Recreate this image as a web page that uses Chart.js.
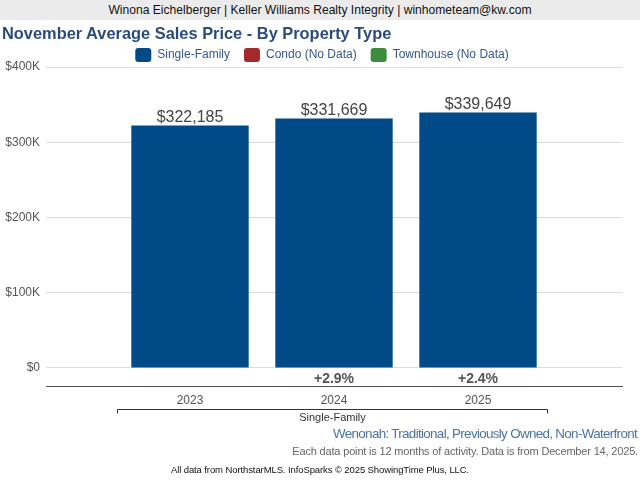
<!DOCTYPE html>
<html>
<head>
<meta charset="utf-8">
<script src="https://cdn.jsdelivr.net/npm/chart.js@4"></script>
<style>
  html, body { margin: 0; padding: 0; background: #fff; }
  body { width: 640px; height: 480px; position: relative; overflow: hidden; font-family: "Liberation Sans", Arial, sans-serif; }
  #header { position: absolute; left: 0; top: 0; width: 640px; height: 20px; background: #ebebeb; color: #111; font-size: 12.1px; line-height: 20px; text-align: center; }
  #title { position: absolute; left: 2px; top: 23px; font-size: 16.4px; line-height: 20px; font-weight: bold; color: #2b4c7a; white-space: nowrap; }
  #wrap { position: absolute; left: 0; top: 0; width: 640px; height: 480px; }
  .foot { position: absolute; white-space: nowrap; }
  #area { right: 3px; top: 426px; font-size: 13.4px; letter-spacing: -0.67px; color: #4a74a4; }
  #note { right: 2px; top: 445px; font-size: 11px; letter-spacing: -0.17px; color: #666; }
  #src { left: 0; width: 640px; text-align: center; top: 464px; font-size: 9.5px; letter-spacing: -0.1px; color: #111; }
</style>
</head>
<body>
<div id="wrap"><canvas id="chart" width="640" height="480"></canvas></div>
<div id="header">Winona Eichelberger | Keller Williams Realty Integrity | winhometeam@kw.com</div>
<div id="title">November Average Sales Price - By Property Type</div>
<div class="foot" id="area">Wenonah: Traditional, Previously Owned, Non-Waterfront</div>
<div class="foot" id="note">Each data point is 12 months of activity. Data is from December 14, 2025.</div>
<div class="foot" id="src">All data from NorthstarMLS. InfoSparks © 2025 ShowingTime Plus, LLC.</div>
<script>
// chart values
const years = ['2023', '2024', '2025'];
const avgPrice = [322185, 331669, 339649];
const pctChange = ['', '+2.9%', '+2.4%'];
const yTicks = [0, 100000, 200000, 300000, 400000];
const seriesNames = ['Single-Family', 'Condo (No Data)', 'Townhouse (No Data)'];
const seriesColors = ['#004b87', '#a3292d', '#3d8b3d'];
const groupLabel = 'Single-Family';

const font = '"Liberation Sans", Arial, sans-serif';

// labels on and below the bars, plus the group bracket
const annotate = {
  id: 'annotate',
  afterLayout(chart) {
    // legend in the original sits a little right of centre
    chart.legend.left += 11;
    chart.legend.right += 11;
  },
  afterDatasetsDraw(chart) {
    const ctx = chart.ctx;
    const x = chart.scales.x;
    const y = chart.scales.y;
    const area = chart.chartArea;
    ctx.save();
    ctx.textAlign = 'center';
    ctx.textBaseline = 'bottom';
    ctx.fillStyle = '#444';
    ctx.font = '16px ' + font;
    avgPrice.forEach((v, i) => {
      ctx.fillText('$' + v.toLocaleString('en-US'), x.getPixelForValue(i), y.getPixelForValue(v));
    });
    ctx.textBaseline = 'middle';
    ctx.font = 'bold 14px ' + font;
    ctx.fillStyle = '#555';
    const midY = (y.getPixelForValue(0) + area.bottom) / 2 + 2;
    pctChange.forEach((t, i) => {
      if (t) ctx.fillText(t, x.getPixelForValue(i), midY);
    });
    // bracket under the years
    const x0 = Math.round(x.getPixelForValue(-0.51)) + 0.5;
    const x1 = Math.round(x.getPixelForValue(2.48)) + 0.5;
    const by = 409.5;
    ctx.strokeStyle = '#333';
    ctx.lineWidth = 1;
    ctx.beginPath();
    ctx.moveTo(x0, by + 4);
    ctx.lineTo(x0, by);
    ctx.lineTo(x1, by);
    ctx.lineTo(x1, by + 4);
    ctx.stroke();
    ctx.font = '11px ' + font;
    ctx.fillStyle = '#333';
    ctx.fillText(groupLabel, (x0 + x1) / 2, 418);
    ctx.restore();
  }
};

const datasets = seriesNames.map((name, i) => ({
  label: name,
  data: i === 0 ? avgPrice.map((v, j) => ({ x: j, y: v })) : [],
  backgroundColor: seriesColors[i],
  borderWidth: 0,
  barPercentage: 0.815,
  categoryPercentage: 1,
}));

new Chart(document.getElementById('chart'), {
  type: 'bar',
  data: { datasets: datasets },
  plugins: [annotate],
  options: {
    responsive: false,
    animation: false,
    grouped: false,
    layout: { padding: { top: 34, right: 18, bottom: 69, left: 0 } },
    plugins: {
      title: { display: false },
      legend: {
        display: true,
        maxHeight: 33,
        labels: {
          color: '#35588a',
          font: { family: font, size: 12 },
          boxWidth: 16,
          boxHeight: 14,
          useBorderRadius: true,
          borderRadius: 3,
          padding: 14,
        },
      },
      tooltip: { enabled: false },
    },
    scales: {
      x: {
        type: 'linear',
        min: -1,
        max: 3,
        offset: false,
        afterBuildTicks: (s) => { s.ticks = years.map((_, i) => ({ value: i })); },
        afterFit: (s) => { s.height = 25; },
        ticks: {
          callback: (v) => years[v],
          color: '#555',
          font: { family: font, size: 12 },
          padding: 7,
          maxRotation: 0,
        },
        grid: { display: false, drawTicks: false },
        border: { display: true, color: '#555', width: 1 },
      },
      y: {
        min: -24000,
        max: 400000,
        afterBuildTicks: (s) => { s.ticks = yTicks.map((v) => ({ value: v })); },
        afterFit: (s) => { s.width = 46; },
        ticks: {
          callback: (v) => '$' + (v === 0 ? '0' : v / 1000 + 'K'),
          color: '#555',
          font: { family: font, size: 12 },
          padding: 6,
        },
        grid: { color: '#dcdcdc', drawTicks: false },
        border: { display: false },
      },
    },
  },
});
</script>
</body>
</html>
